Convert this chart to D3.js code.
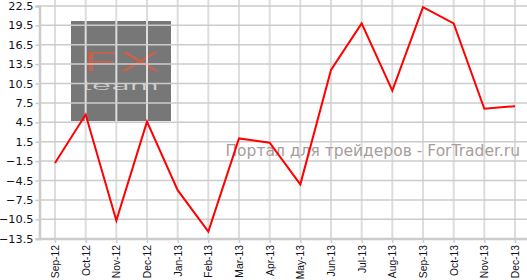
<!DOCTYPE html>
<html><head><meta charset="utf-8">
<script src="https://cdn.jsdelivr.net/npm/d3@7/dist/d3.min.js"></script>
<style>html,body{margin:0;padding:0;background:#fff;}svg{display:block;}</style>
</head><body>
<svg id="c" width="527" height="280"></svg>
<script>
const months = ["Sep-12","Oct-12","Nov-12","Dec-12","Jan-13","Feb-13","Mar-13","Apr-13","May-13","Jun-13","Jul-13","Aug-13","Sep-13","Oct-13","Nov-13","Dec-13"];
const values = [-1.8, 5.7, -10.7, 4.6, -6.0, -12.4, 2.0, 1.35, -5.1, 12.6, 19.8, 9.4, 22.3, 19.8, 6.6, 7.0];
const yTicks = [22.5, 19.5, 16.5, 13.5, 10.5, 7.5, 4.5, 1.5, -1.5, -4.5, -7.5, -10.5, -13.5];

const svg = d3.select("#c");
const x = d3.scalePoint().domain(months).range([55, 515]);
const y = d3.scaleLinear().domain([-13.5, 22.5]).range([238.7, 5.9]);
const axisX = 39.5, axisY = 239;

// watermark box
svg.append("rect").attr("x", 71).attr("y", 21).attr("width", 100).attr("height", 100).attr("fill", "#777777");
svg.append("text").attr("x", 82).attr("y", 71).attr("font-family", "Inter").attr("font-weight", 300)
  .attr("font-size", 26).attr("textLength", 78).attr("lengthAdjust", "spacingAndGlyphs")
  .attr("fill", "#c8604e").text("FX");
svg.append("text").attr("x", 82).attr("y", 90).attr("font-family", "Inter").attr("font-weight", 300)
  .attr("font-size", 12).attr("textLength", 77).attr("lengthAdjust", "spacingAndGlyphs")
  .attr("fill", "#d0d0d0").text("team");

// vertical grid
svg.append("g").selectAll("line").data(months).join("line")
  .attr("x1", d => x(d)).attr("x2", d => x(d)).attr("y1", 0).attr("y2", axisY)
  .attr("stroke", "#dddddd").attr("stroke-width", 2);
// horizontal grid
svg.append("g").selectAll("line").data(yTicks).join("line")
  .attr("x1", axisX).attr("x2", 527).attr("y1", d => y(d)).attr("y2", d => y(d))
  .attr("stroke", "#cccccc").attr("stroke-width", 1.5);

// site watermark text
svg.append("text").attr("x", 520).attr("y", 156).attr("text-anchor", "end")
  .attr("font-family", "DejaVu Sans").attr("font-size", 15.5).attr("fill", "#a69d9d")
  .text("Портал для трейдеров - ForTrader.ru");

// axes
const yAxis = d3.axisLeft(y).tickValues(yTicks).tickSize(4).tickFormat(d3.format(".1f"));
const gy = svg.append("g").attr("transform", `translate(${axisX},0)`).call(yAxis);
gy.select(".domain").attr("stroke", "#cccccc").attr("stroke-width", 2.5);
gy.selectAll(".tick line").attr("stroke", "#cccccc").attr("stroke-width", 1.5);
gy.selectAll(".tick text").attr("font-family", "DejaVu Sans").attr("font-size", 11.3).attr("fill", "#111122").attr("x", -6);

const xAxis = d3.axisBottom(x).tickSize(4);
const gx = svg.append("g").attr("transform", `translate(0,${axisY})`).call(xAxis);
gx.select(".domain").remove();
gx.append("line").attr("x1", axisX - 1).attr("x2", 527).attr("y1", 0).attr("y2", 0).attr("stroke", "#cccccc").attr("stroke-width", 2.5);
gx.selectAll(".tick line").attr("stroke", "#cccccc").attr("stroke-width", 1.5);
gx.selectAll(".tick text").attr("font-family", "Liberation Sans").attr("font-size", 10.3).attr("fill", "#111122")
  .attr("transform", "rotate(-90)").attr("text-anchor", "end").attr("x", -6).attr("y", 0).attr("dy", "0.35em");

// line
svg.append("path").datum(values)
  .attr("d", d3.line().x((d, i) => x(months[i])).y(d => y(d)))
  .attr("fill", "none").attr("stroke", "#ff0000").attr("stroke-width", 2).attr("stroke-linejoin", "miter");
</script>
</body></html>
